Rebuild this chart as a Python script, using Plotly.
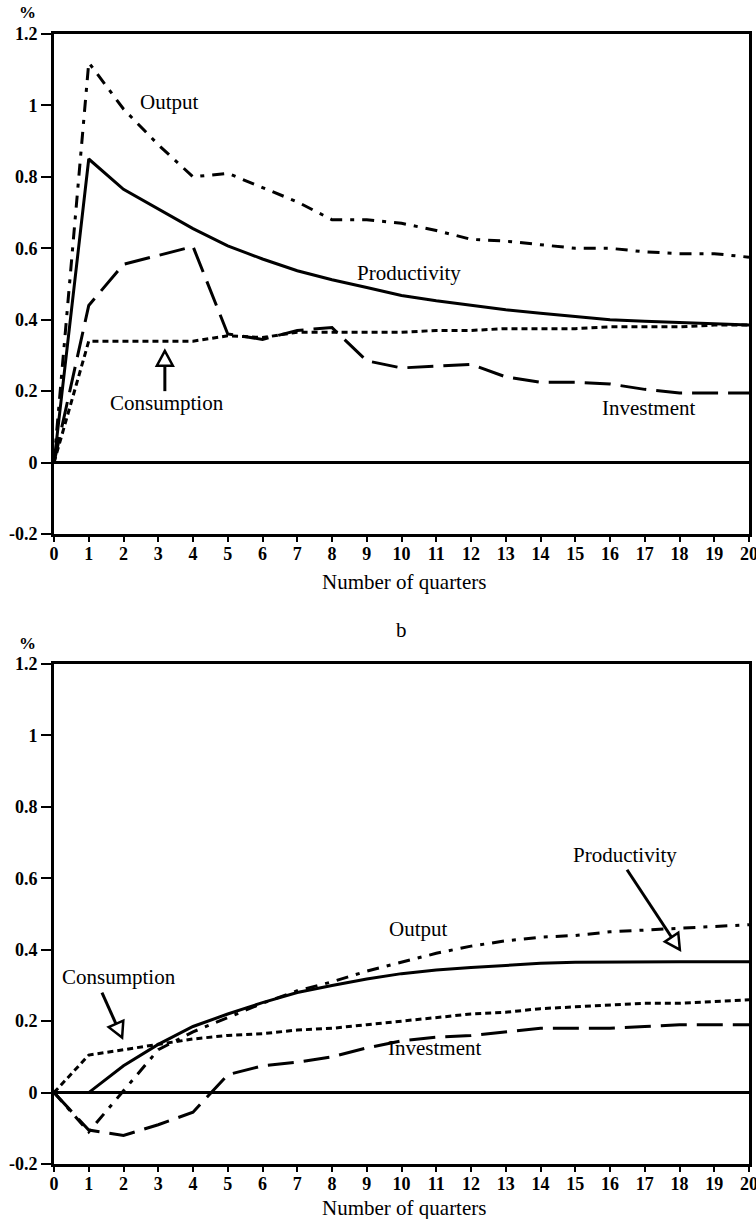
import math
import plotly.graph_objects as go

# ---------------- data ----------------
quarters = list(range(21))
x_tick_labels = [str(q) for q in quarters]
y_tick_values = [-0.2, 0, 0.2, 0.4, 0.6, 0.8, 1.0, 1.2]
y_tick_labels = ["-0.2", "0", "0.2", "0.4", "0.6", "0.8", "1", "1.2"]

# panel a
a_output = [0, 1.12, 0.99, 0.89, 0.80, 0.81, 0.77, 0.73, 0.68, 0.68, 0.67,
            0.65, 0.625, 0.62, 0.61, 0.60, 0.60, 0.59, 0.585, 0.585, 0.575]
a_productivity = [0, 0.85, 0.765, 0.71, 0.655, 0.607, 0.57, 0.537, 0.512, 0.49, 0.468,
                  0.453, 0.44, 0.428, 0.418, 0.408, 0.40, 0.396, 0.392, 0.388, 0.385]
a_consumption = [0, 0.34, 0.34, 0.34, 0.34, 0.355, 0.35, 0.365, 0.365, 0.365, 0.365,
                 0.37, 0.37, 0.375, 0.375, 0.375, 0.38, 0.38, 0.38, 0.385, 0.385]
a_investment = [0, 0.44, 0.555, 0.58, 0.605, 0.36, 0.345, 0.37, 0.378, 0.285, 0.265,
                0.27, 0.275, 0.24, 0.225, 0.225, 0.22, 0.205, 0.195, 0.195, 0.195]

# panel b
b_output = [0, -0.11, 0.005, 0.12, 0.17, 0.21, 0.25, 0.285, 0.31, 0.34, 0.365,
            0.39, 0.41, 0.425, 0.435, 0.44, 0.45, 0.455, 0.46, 0.465, 0.47]
b_productivity = [0, 0, 0.075, 0.135, 0.185, 0.22, 0.252, 0.28, 0.30, 0.318, 0.333,
                  0.343, 0.35, 0.357, 0.362, 0.365, 0.366, 0.366, 0.366, 0.366, 0.366]
b_consumption = [0, 0.105, 0.12, 0.135, 0.15, 0.16, 0.165, 0.175, 0.18, 0.19, 0.2,
                 0.21, 0.22, 0.225, 0.235, 0.24, 0.245, 0.25, 0.25, 0.255, 0.26]
b_investment = [0, -0.105, -0.12, -0.09, -0.055, 0.05, 0.075, 0.085, 0.1, 0.125, 0.145,
                0.155, 0.16, 0.17, 0.18, 0.18, 0.18, 0.185, 0.19, 0.19, 0.19]

# ---------------- styling ----------------
SERIF = "Liberation Serif, Times New Roman, serif"
W = 3
styles = {
    "Output": dict(dash="12px,8px,4px,8px", width=W),
    "Productivity": dict(dash="solid", width=W),
    "Consumption": dict(dash="6px,4px", width=W),
    "Investment": dict(dash="26px,10px", width=W),
}

fig = go.Figure()
panels = [
    ("x", "y", dict(Output=a_output, Productivity=a_productivity,
                    Consumption=a_consumption, Investment=a_investment)),
    ("x2", "y2", dict(Output=b_output, Productivity=b_productivity,
                      Consumption=b_consumption, Investment=b_investment)),
]
for xa, ya, series in panels:
    for name in ["Investment", "Consumption", "Output", "Productivity"]:
        fig.add_trace(go.Scatter(
            x=quarters, y=series[name], mode="lines", name=name,
            xaxis=xa, yaxis=ya, showlegend=False, hoverinfo="skip",
            line=dict(color="black", **styles[name]),
        ))

xaxis_common = dict(
    range=[0, 20], tickmode="array", tickvals=quarters, ticktext=x_tick_labels,
    ticks="outside", ticklen=5, tickwidth=2, tickcolor="black",
    showline=True, linecolor="black", linewidth=3, mirror=True,
    showgrid=False, zeroline=False, automargin=False, ticklabeloverflow="allow",
    ticklabelstandoff=-4,
    tickfont=dict(family=SERIF, size=18, color="black", weight="bold"),
)
yaxis_common = dict(
    range=[-0.2, 1.2], tickmode="array", tickvals=y_tick_values, ticktext=y_tick_labels,
    ticks="outside", ticklen=10, tickwidth=2, tickcolor="black",
    showline=True, linecolor="black", linewidth=3, mirror=True,
    showgrid=False, zeroline=True, zerolinecolor="black", zerolinewidth=3,
    automargin=False, ticklabeloverflow="allow",
    tickfont=dict(family=SERIF, size=18, color="black", weight="bold"),
)

# plot geometry (pixels)
L, R, T, B = 54, 7, 34, 55
WIDTH, HEIGHT = 756, 1219
PH = HEIGHT - T - B  # 1130
top_dom = [(1164 - 534) / PH, 1.0]
bot_dom = [0.0, (1164 - 664) / PH]

fig.update_layout(
    width=WIDTH, height=HEIGHT, autosize=False,
    margin=dict(l=L, r=R, t=T, b=B, autoexpand=False),
    paper_bgcolor="white", plot_bgcolor="white",
    xaxis=dict(**xaxis_common, anchor="y"),
    yaxis=dict(**yaxis_common, domain=top_dom, anchor="x"),
    xaxis2=dict(**xaxis_common, anchor="y2"),
    yaxis2=dict(**yaxis_common, domain=bot_dom, anchor="x2"),
)

def ypaper(py):
    return (HEIGHT - B - py) / PH

def xpaper(px):
    return (px - L) / (WIDTH - L - R)

lab_font = dict(family=SERIF, size=21, color="black")
annos = []
# panel titles / units
for txt, px, py, size in [("%", 27, 13, 17), ("%", 27, 643, 17),
                          ("Number of quarters", 404, 582, 21),
                          ("Number of quarters", 404, 1208, 21),
                          ("b", 402, 630, 21)]:
    annos.append(dict(text=txt, xref="paper", yref="paper", x=xpaper(px), y=ypaper(py),
                      showarrow=False, xanchor="center", yanchor="middle",
                      font=dict(family=SERIF, size=size, color="black",
                                weight="bold" if txt == "%" else "normal")))

# series labels (data coordinates)
labels = [
    ("x", "y", "Output", 3.31, 1.01),
    ("x", "y", "Productivity", 10.22, 0.531),
    ("x", "y", "Investment", 17.12, 0.154),
    ("x", "y", "Consumption", 3.25, 0.168),
    ("x2", "y2", "Output", 10.5, 0.458),
    ("x2", "y2", "Investment", 10.96, 0.125),
    ("x2", "y2", "Productivity", 16.43, 0.666),
    ("x2", "y2", "Consumption", 1.87, 0.324),
]
for xr, yr, txt, x, y in labels:
    annos.append(dict(text=txt, xref=xr, yref=yr, x=x, y=y, showarrow=False,
                      xanchor="center", yanchor="middle", font=lab_font))
fig.update_layout(annotations=annos)

# arrows with open triangular heads
SX, SY = 34.75, 357.5  # pixels per data unit

def arrow(xr, yr, tail, tip, head_len=15, head_w=16):
    tx, ty = tail[0] * SX, tail[1] * SY
    hx, hy = tip[0] * SX, tip[1] * SY
    dx, dy = hx - tx, hy - ty
    ln = math.hypot(dx, dy)
    ux, uy = dx / ln, dy / ln
    bx, by = hx - ux * head_len, hy - uy * head_len
    nx, ny = -uy, ux
    p1 = (bx + nx * head_w / 2, by + ny * head_w / 2)
    p2 = (bx - nx * head_w / 2, by - ny * head_w / 2)
    return [
        dict(type="line", xref=xr, yref=yr, x0=tail[0], y0=tail[1], x1=bx / SX, y1=by / SY,
             line=dict(color="black", width=3)),
        dict(type="path", xref=xr, yref=yr,
             path=f"M {hx/SX},{hy/SY} L {p1[0]/SX},{p1[1]/SY} L {p2[0]/SX},{p2[1]/SY} Z",
             line=dict(color="black", width=2.5), fillcolor="white"),
    ]

shapes = []
shapes += arrow("x", "y", (3.19, 0.2), (3.19, 0.313))
shapes += arrow("x2", "y2", (1.38, 0.28), (1.96, 0.154))
shapes += arrow("x2", "y2", (16.49, 0.624), (18.01, 0.40))
fig.update_layout(shapes=shapes)

fig.write_html(
    "out.html",
    config={"displayModeBar": False},
    post_script="document.body.style.margin='0';document.body.style.overflow='hidden';",
)
